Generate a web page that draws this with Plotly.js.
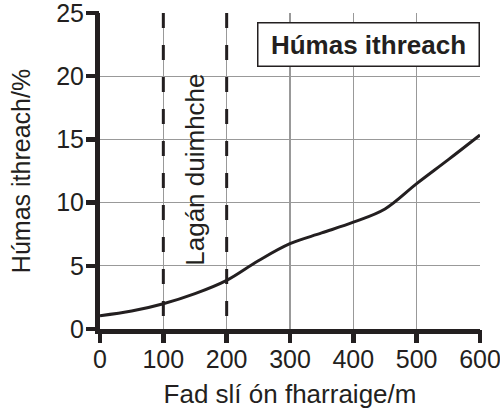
<!DOCTYPE html>
<html><head><meta charset="utf-8">
<script src="https://cdn.plot.ly/plotly-3.0.1.min.js"></script>
<style>html,body{margin:0;padding:0;background:#fff}#c{width:500px;height:416px}</style>
</head><body><div id="c"></div>
<script>
const distance = [0, 50, 100, 150, 200, 250, 300, 350, 400, 450, 500, 550, 600];
const humus = [1.05, 1.42, 2.0, 2.8, 3.85, 5.4, 6.75, 7.6, 8.45, 9.5, 11.5, 13.4, 15.35];
const duneBounds = [100, 200];
const xTicks = [0, 100, 200, 300, 400, 500, 600];
const yTicks = [0, 5, 10, 15, 20, 25];
const titleText = 'Húmas ithreach';
const duneLabel = 'Lagán duimhche';
const xTitle = 'Fad slí ón fharraige/m';
const yTitle = 'Húmas ithreach/%';

const font = 'Liberation Sans, Arial, sans-serif';
const ink = '#231f20';
const xRange = [0, 600], yRange = [0, 25];
const traces = [{
  x: distance, y: humus, type: 'scatter', mode: 'lines',
  line: {color: ink, width: 3, shape: 'spline', smoothing: 1},
  hoverinfo: 'skip'
}, {
  x: distance, y: humus, xaxis: 'x2', yaxis: 'y2', type: 'scatter', mode: 'markers',
  marker: {opacity: 0, size: 1}, hoverinfo: 'skip'
}];
const shapes = duneBounds.map(b => ({
  type: 'line', xref: 'x', yref: 'y', x0: b, x1: b, y0: yRange[1], y1: yRange[0],
  line: {color: ink, width: 3, dash: '15px,17px'}
}));
const tickAxis = (vals, range) => ({
  range: range, tickvals: vals, showticklabels: false, showgrid: false,
  zeroline: false, showline: false, ticks: 'outside', ticklen: 13,
  tickwidth: 4.5, tickcolor: ink, fixedrange: true
});
const layout = {
  width: 500, height: 416,
  margin: {l: 100, r: 20, t: 13, b: 87},
  paper_bgcolor: '#fff', plot_bgcolor: '#fff',
  showlegend: false,
  font: {family: font, color: ink, size: 25},
  xaxis: {
    range: xRange, tickvals: xTicks, ticktext: xTicks.map(String),
    showgrid: true, gridcolor: '#999', gridwidth: 1.2,
    zeroline: false, showline: true, linecolor: ink, linewidth: 5,
    ticks: 'outside', ticklen: 4, tickwidth: 4.5, tickcolor: ink,
    ticklabeloverflow: 'allow',
    tickfont: {size: 25, family: font}, fixedrange: true,
    title: {text: xTitle, font: {size: 26, family: font}, standoff: 14}
  },
  yaxis: {
    range: yRange, tickvals: yTicks, ticktext: yTicks.map(String),
    showgrid: true, gridcolor: '#999', gridwidth: 1.2,
    zeroline: false, showline: true, linecolor: ink, linewidth: 5,
    ticks: 'outside', ticklen: 6, tickwidth: 4.5, tickcolor: ink,
    ticklabeloverflow: 'allow',
    tickfont: {size: 25, family: font}, fixedrange: true,
    title: {text: yTitle, font: {size: 25, family: font}, standoff: 20}
  },
  xaxis2: Object.assign(tickAxis(xTicks, xRange), {overlaying: 'x', anchor: 'y2', side: 'bottom'}),
  yaxis2: Object.assign(tickAxis(yTicks, yRange), {overlaying: 'y', anchor: 'x2', side: 'left'}),
  shapes: shapes,
  annotations: [
    {x: 150, y: 12.6, xref: 'x', yref: 'y', text: duneLabel, showarrow: false,
     textangle: -90, font: {size: 26, family: font, color: ink}},
    {x: (479.5 - 100) / 380, y: 1 - (21.5 - 13) / 316, xref: 'paper', yref: 'paper',
     xanchor: 'right', yanchor: 'top',
     text: '<b>' + titleText + '</b>', showarrow: false,
     font: {size: 26, family: font, color: ink}, width: 216, height: 38,
     bordercolor: ink, borderwidth: 1.5, borderpad: 2, bgcolor: '#fff'}
  ]
};
Plotly.newPlot('c', traces, layout, {displayModeBar: false, staticPlot: true});
</script></body></html>
